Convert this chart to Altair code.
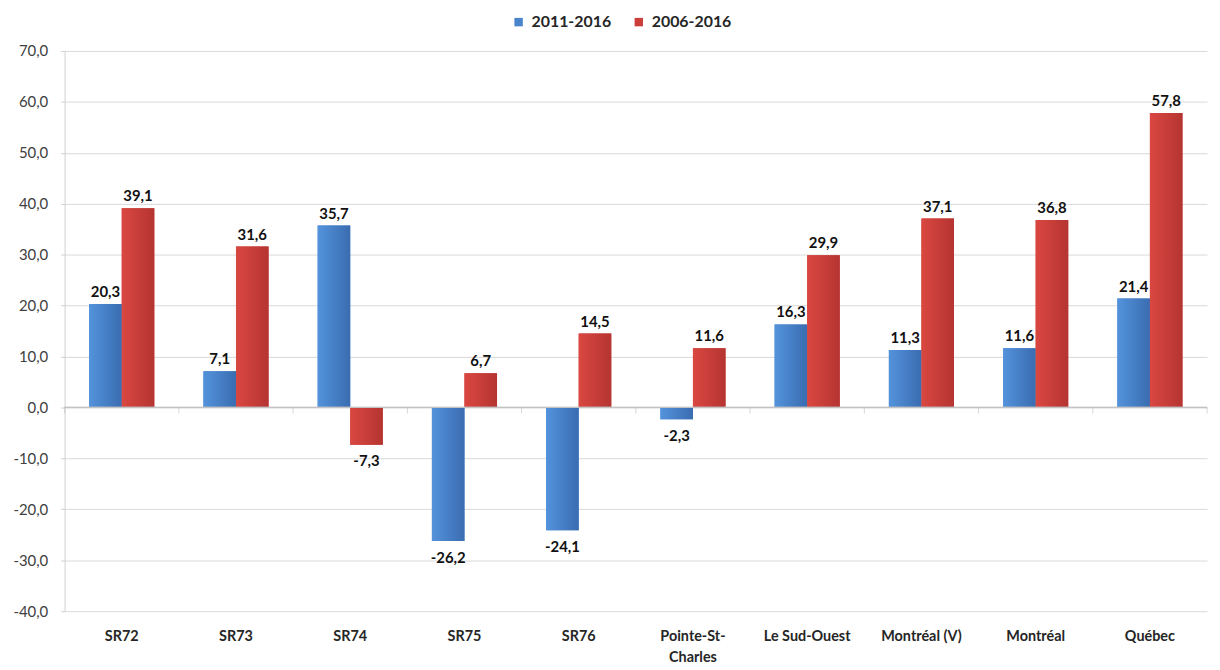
import altair as alt
import pandas as pd

categories = ["SR72", "SR73", "SR74", "SR75", "SR76", "Pointe-St-Charles",
              "Le Sud-Ouest", "Montréal (V)", "Montréal", "Québec"]
series = ["2011-2016", "2006-2016"]
v_2011_2016 = [20.3, 7.1, 35.7, -26.2, -24.1, -2.3, 16.3, 11.3, 11.6, 21.4]
v_2006_2016 = [39.1, 31.6, -7.3, 6.7, 14.5, 11.6, 29.9, 37.1, 36.8, 57.8]
y_ticks = [-40, -30, -20, -10, 0, 10, 20, 30, 40, 50, 60, 70]
colors = ["#4a85cc", "#cc3e39"]

rows = []
for c, a, b in zip(categories, v_2011_2016, v_2006_2016):
    rows.append({"cat": c, "series": series[0], "value": a})
    rows.append({"cat": c, "series": series[1], "value": b})
df = pd.DataFrame(rows)
df["label"] = df["value"].map(lambda v: f"{v:.1f}".replace(".", ","))

boundaries = pd.DataFrame({"b": list(range(len(categories) + 1)), "z": 0})

FONT = "Lato"
YDOM = [-40, 70]

x_enc = alt.X("cat:N", sort=categories,
              scale=alt.Scale(paddingInner=0.43, paddingOuter=0.215),
              axis=alt.Axis(title=None, domain=False, ticks=False, grid=False,
                            labelAngle=0, labelFont=FONT, labelFontWeight="bold",
                            labelFontSize=14.5, labelColor="#262626", labelPadding=19,
                            labelLineHeight=21, labelLimit=200,
                            labelExpr="datum.label == 'Pointe-St-Charles' ? ['Pointe-St-', 'Charles'] : datum.label"))
xo_enc = alt.XOffset("series:N", sort=series, scale=alt.Scale(paddingInner=0, paddingOuter=0))
y_enc = alt.Y("value:Q",
              scale=alt.Scale(domain=YDOM, nice=False, zero=False),
              axis=alt.Axis(title=None, values=y_ticks, grid=True, gridColor="#d9d9d9",
                            domain=True, domainColor="#d0d0d0", ticks=True, tickSize=4,
                            tickColor="#d0d0d0", labelFont=FONT, labelFontSize=15,
                            labelColor="#404040", labelPadding=13,
                            labelExpr="replace(replace(format(datum.value, '.1f'), '.', ','), '\u2212', '-')"))

base = alt.Chart(df)

bars = base.mark_bar().encode(
    x=x_enc, xOffset=xo_enc, y=y_enc,
    color=alt.Color("series:N", sort=series,
                    scale=alt.Scale(domain=series, range=colors),
                    legend=alt.Legend(title=None, orient="none", direction="horizontal",
                                      legendX=449, legendY=-37,
                                      symbolType="square", symbolSize=72,
                                      symbolStrokeWidth=0,
                                      labelFont=FONT, labelFontSize=16,
                                      labelFontWeight="bold", labelColor="#262626",
                                      columnPadding=19, labelOffset=5)),
)

def grad(c1, c2):
    return alt.LinearGradient(gradient="linear",
                              stops=[alt.GradientStop(color=c1, offset=0),
                                     alt.GradientStop(color=c2, offset=1)],
                              x1=0, x2=1, y1=0, y2=0)

blue_overlay = base.transform_filter(alt.datum.series == series[0]).mark_bar(
    fill=grad("#5393dc", "#3a6cb0")).encode(x=x_enc, xOffset=xo_enc, y=y_enc)
red_overlay = base.transform_filter(alt.datum.series == series[1]).mark_bar(
    fill=grad("#da4741", "#b53431")).encode(x=x_enc, xOffset=xo_enc, y=y_enc)

zero = alt.Chart(boundaries).mark_rule(color="#c4c4c4", strokeWidth=1).encode(
    y=alt.Y("z:Q", scale=alt.Scale(domain=YDOM, nice=False, zero=False)))

zero_ticks = alt.Chart(boundaries).mark_tick(
    orient="vertical", size=6, thickness=1, color="#c4c4c4", yOffset=3
).encode(
    x=alt.X("b:Q", scale=alt.Scale(domain=[0, len(categories)], nice=False, zero=False), axis=None),
    y=alt.Y("z:Q", scale=alt.Scale(domain=YDOM, nice=False, zero=False)),
)

pos_labels = base.transform_filter(alt.datum.value >= 0).mark_text(
    baseline="bottom", dy=-4, font=FONT, fontSize=15, fontWeight="bold", color="#111111"
).encode(x=x_enc, xOffset=xo_enc, y=y_enc, text="label:N")
neg_labels = base.transform_filter(alt.datum.value < 0).mark_text(
    baseline="top", dy=10, font=FONT, fontSize=15, fontWeight="bold", color="#111111"
).encode(x=x_enc, xOffset=xo_enc, y=y_enc, text="label:N")

main = alt.layer(bars, blue_overlay, red_overlay, zero, pos_labels, neg_labels)

chart = alt.layer(main, zero_ticks).resolve_scale(x="independent").properties(
    width=1150, height=564,
    autosize=alt.AutoSizeParams(type="none"),
    padding={"left": 57, "top": 41, "right": 5, "bottom": 57},
).configure_view(stroke=None)

chart.save("out.html", embed_options={"renderer": "svg", "actions": False})
